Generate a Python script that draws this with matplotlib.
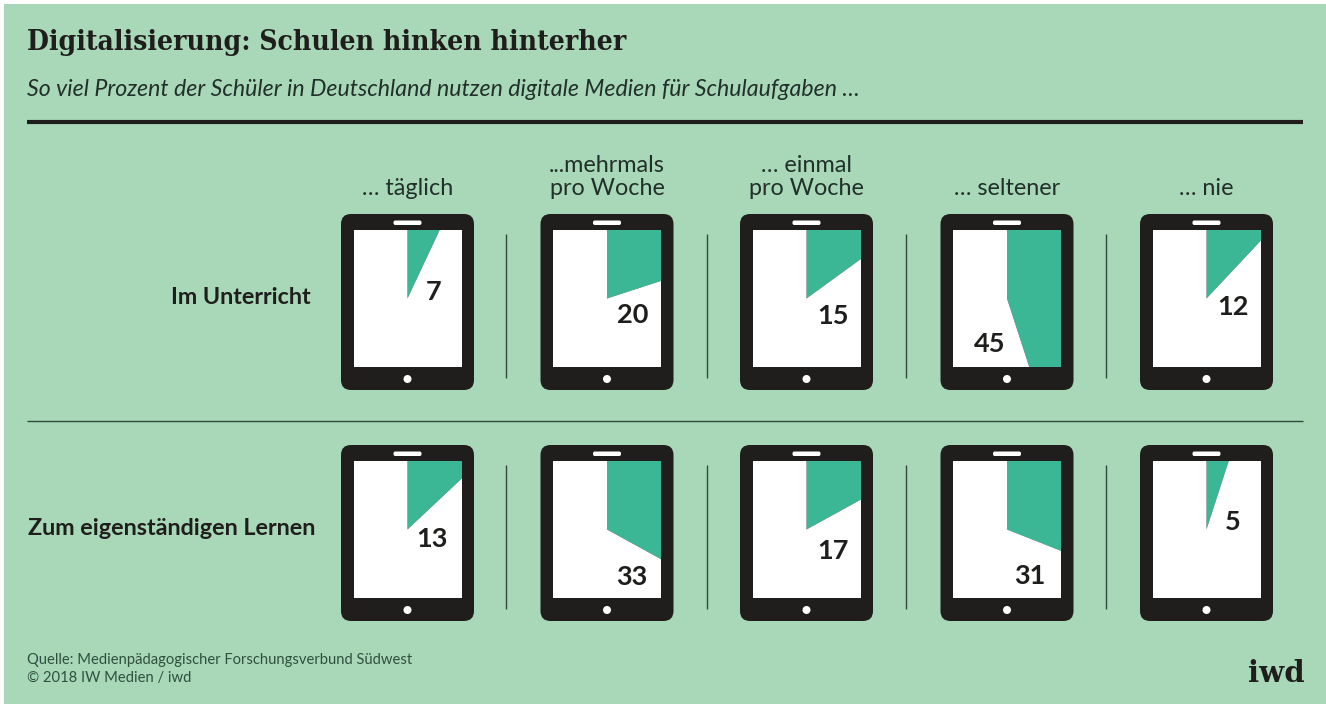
import matplotlib
matplotlib.use("Agg")
import matplotlib.pyplot as plt
from matplotlib.patches import FancyBboxPatch, Circle, Rectangle

# ---- data ----
title = "Digitalisierung: Schulen hinken hinterher"
subtitle = "So viel Prozent der Schüler in Deutschland nutzen digitale Medien für Schulaufgaben …"
frequency_labels = ["… täglich", "...mehrmals\npro Woche", "… einmal\npro Woche", "… seltener", "… nie"]
row_labels = ["Im Unterricht", "Zum eigenständigen Lernen"]
im_unterricht = [7, 20, 15, 45, 12]
zum_lernen = [13, 33, 17, 31, 5]
source = "Quelle: Medienpädagogischer Forschungsverbund Südwest\n© 2018 IW Medien / iwd"
brand = "iwd"

# ---- layout (pixels) ----
W, H = 1326, 704
col_x = [407.5, 607, 806.5, 1007, 1206.5]
row_y = [298.5, 529.5]
sep_x = [506, 707, 906, 1106]
label_pos = [
    [(434, 292), (633, 315), (833, 316), (990, 344), (1233, 307)],
    [(432, 539), (632, 577), (833, 551), (1030, 576), (1233, 522)],
]
BG = "#A8D8B8"
GREEN = "#3BB795"
DARK = "#1F1E1C"
TXT = "#21302A"
SANS = "Lato"

fig = plt.figure(figsize=(W / 100, H / 100), dpi=100, facecolor="white")


def px_axes(z):
    a = fig.add_axes([0, 0, 1, 1], zorder=z)
    a.set_xlim(0, W)
    a.set_ylim(H, 0)
    a.axis("off")
    return a


bg = px_axes(0)
fg = px_axes(10)
bg.add_patch(Rectangle((4, 4), W - 4, H - 4, fc=BG, ec="none"))

fg.text(27, 43, title, fontsize=20.25, fontweight="bold", fontstretch="condensed", family="DejaVu Serif",
        color=DARK, va="center", ha="left")
fg.text(27, 89, subtitle, fontsize=16.7, style="italic", family=SANS, color=TXT, va="center", ha="left")
fg.plot([27, 1303], [122, 122], color=DARK, lw=3, solid_capstyle="butt")
fg.plot([27, 1303], [420.5, 420.5], color="#2F4A3C", lw=1, solid_capstyle="butt")

for x, lab in zip(col_x, frequency_labels):
    fg.text(x, 195, lab, fontsize=16.8, family=SANS, color=TXT, ha="center", va="baseline", linespacing=1.12)

for y, right, lab in zip(row_y, [311, 315], row_labels):
    fg.text(right, y - 1, lab, fontsize=16.8, fontweight="bold", family=SANS, color=DARK, ha="right", va="center")

HW, HH = 54, 68.5   # half size of a tablet screen
R = 100.0           # pie radius in px; larger than the screen diagonal


def tablet(cx, cy):
    bg.add_patch(FancyBboxPatch((cx - 59.5, cy - 77.5), 119, 162, boxstyle="round,pad=7,rounding_size=10",
                                fc=DARK, ec="none"))
    bg.add_patch(FancyBboxPatch((cx - 13, cy - 77), 26, 2.5, boxstyle="round,pad=1,rounding_size=1.8",
                                fc="white", ec="none"))
    bg.add_patch(Circle((cx, cy + 80.5), 4, fc="white", ec="none"))


for r, (cy, values) in enumerate(zip(row_y, [im_unterricht, zum_lernen])):
    for c, (cx, v) in enumerate(zip(col_x, values)):
        tablet(cx, cy)
        ax = fig.add_axes([(cx - HW) / W, 1 - (cy + HH) / H, 2 * HW / W, 2 * HH / H], zorder=5)
        ax.pie([v, 100 - v], startangle=90, counterclock=False, radius=1.0,
               colors=[GREEN, "white"], wedgeprops={"clip_on": True, "linewidth": 0})
        ax.set_aspect("auto")
        ax.set_xlim(-HW / R, HW / R)
        ax.set_ylim(-HH / R, HH / R)
        ax.axis("off")
        lx, ly = label_pos[r][c]
        fg.text(lx, ly, str(v), fontsize=19.5, fontweight="bold", family=SANS, color=DARK, ha="center", va="center")
    for x in sep_x:
        fg.plot([x, x], [cy - 65, cy + 79], color="#2F4A3C", lw=1, solid_capstyle="butt")

fg.text(27, 669, source, fontsize=10.6, family=SANS, color="#2F4F3F", ha="left", va="center", linespacing=1.35)
fg.text(1305, 674, brand, fontsize=21, fontweight="bold", family="DejaVu Serif", color=DARK, ha="right", va="center")

fig.savefig("out.png", dpi=100, facecolor="white")
